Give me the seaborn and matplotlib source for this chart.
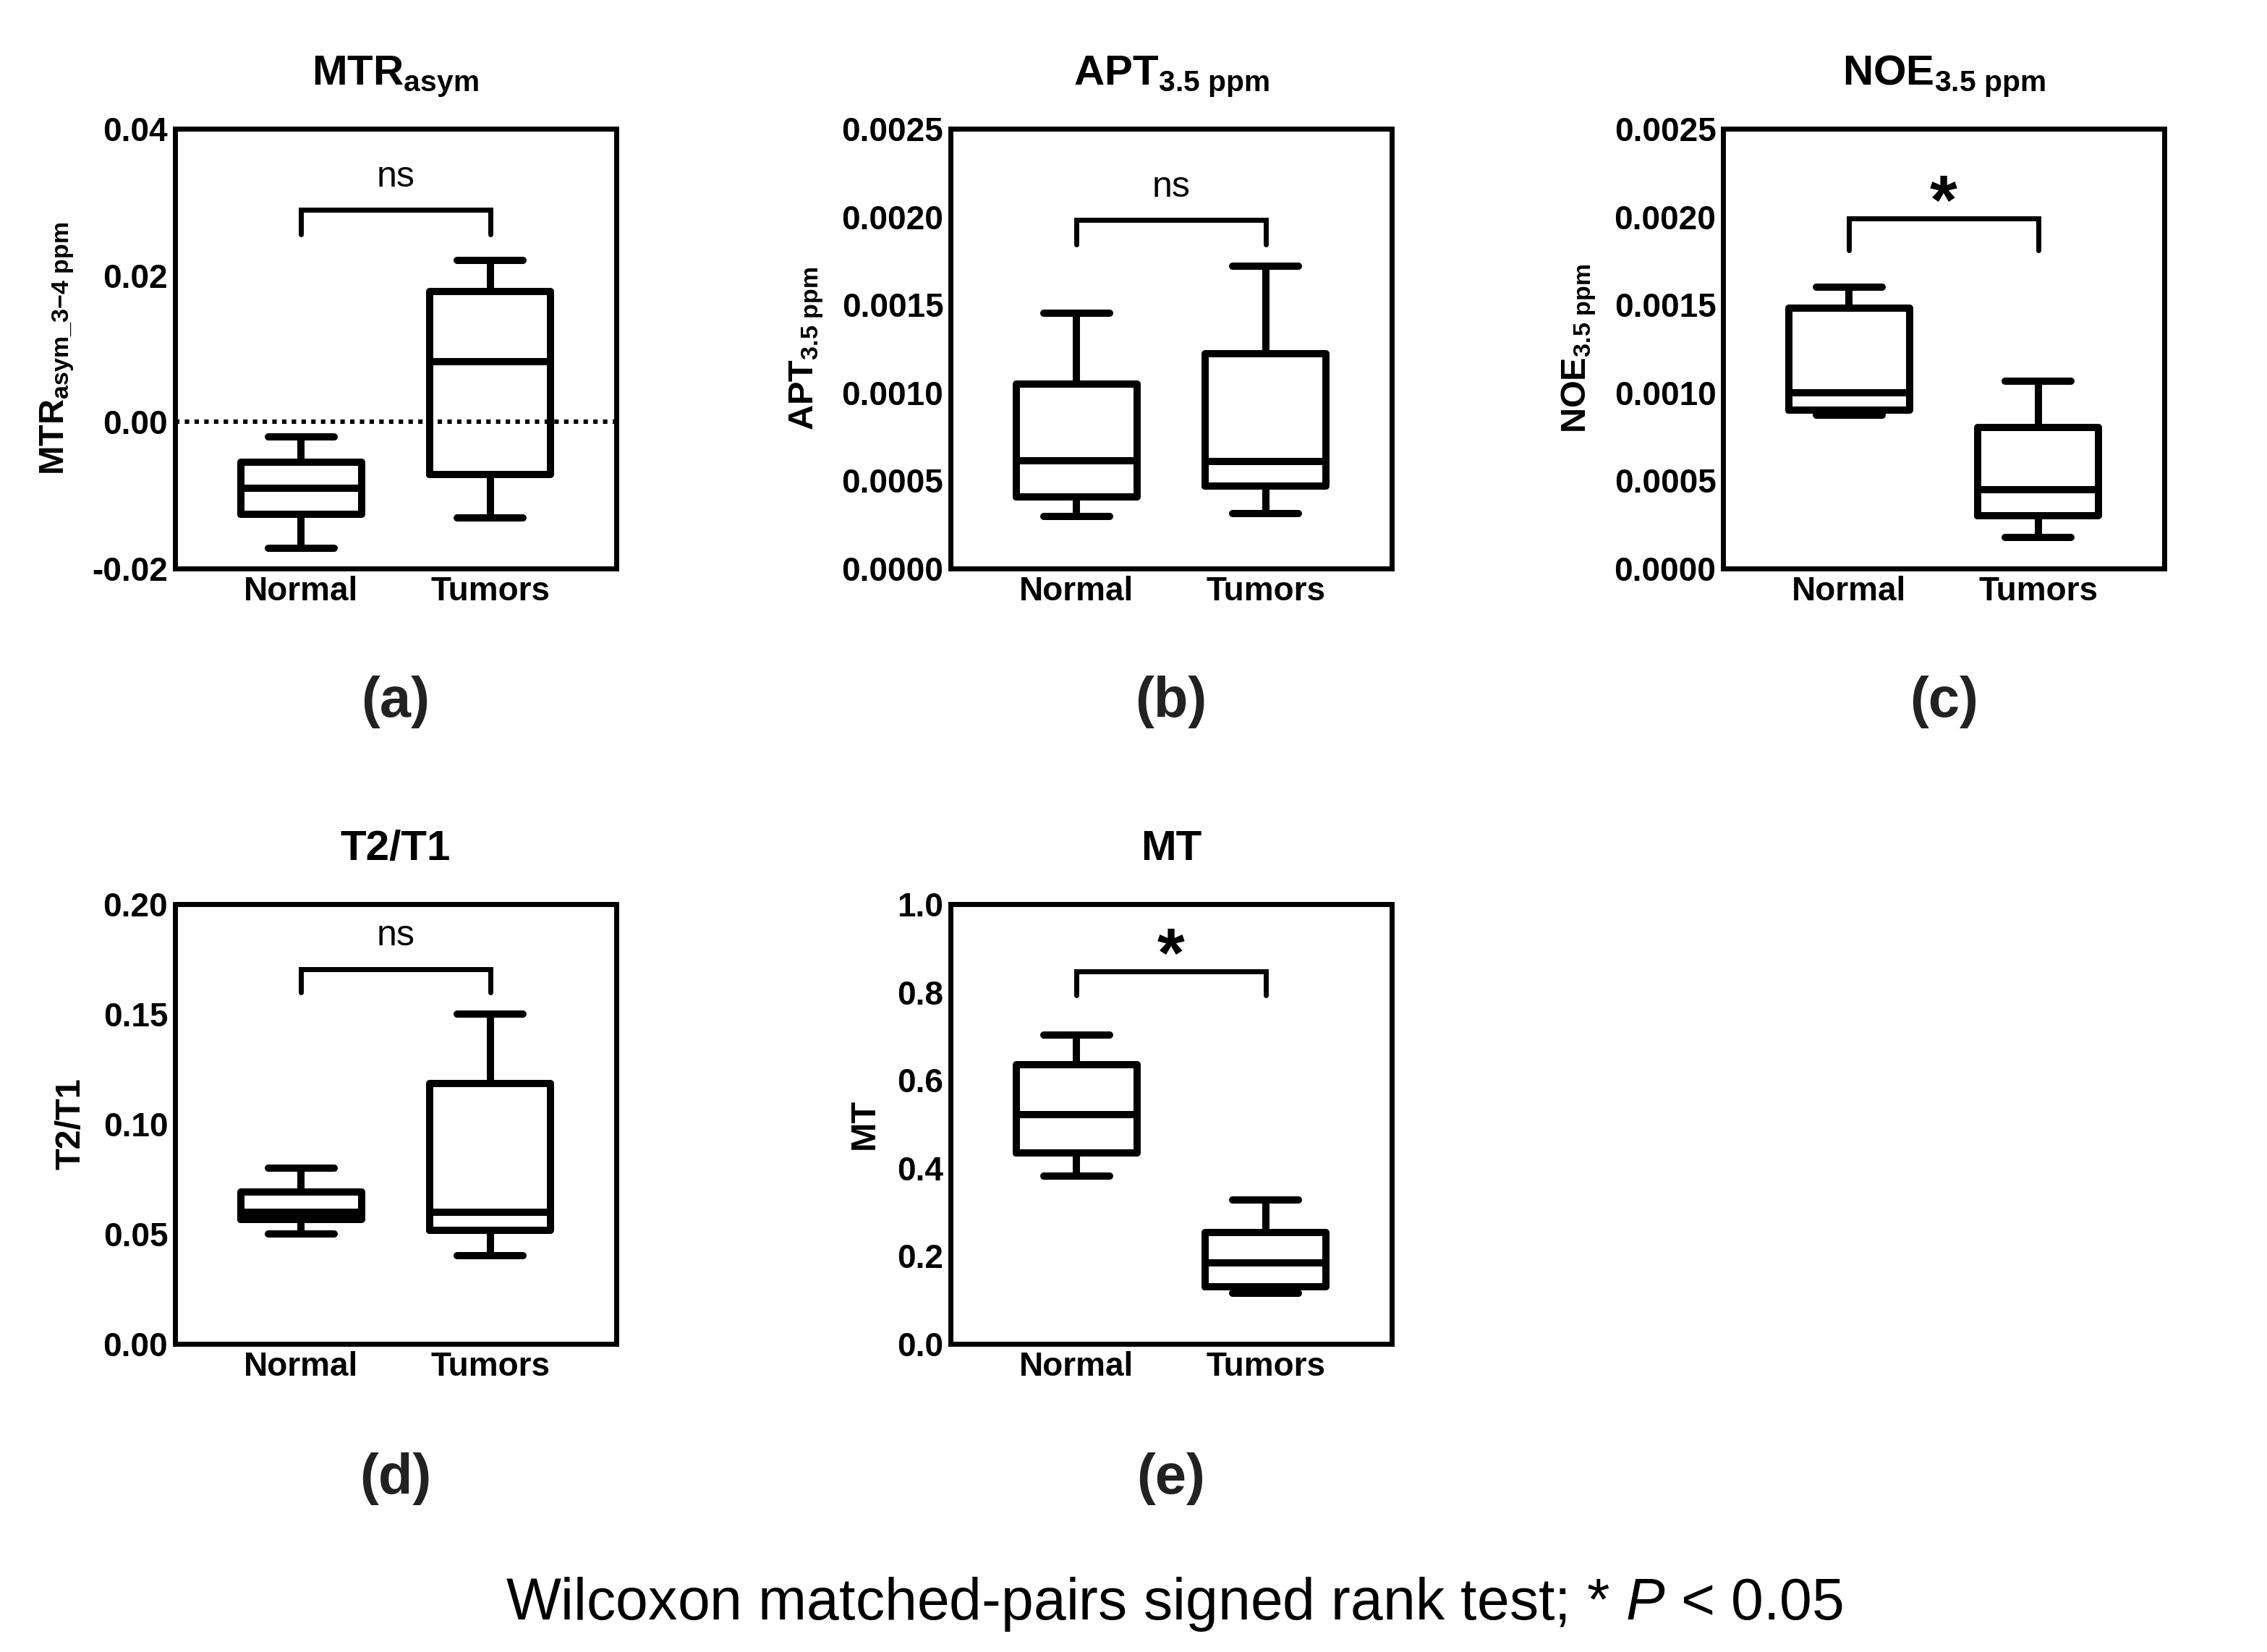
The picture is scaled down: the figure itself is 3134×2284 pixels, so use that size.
import matplotlib
matplotlib.use("Agg")
import matplotlib.pyplot as plt
import matplotlib.transforms as mtransforms
from matplotlib.ticker import FormatStrFormatter, MultipleLocator
import numpy as np
import pandas as pd
import seaborn as sns

groups = ["Normal", "Tumors"]

# five-number summaries: min, Q1, median, Q3, max
mtr_normal = [-0.0172, -0.0126, -0.0091, -0.0055, -0.0020]
mtr_tumors = [-0.0131, -0.0072, 0.0082, 0.0178, 0.0220]
apt_normal = [0.000295, 0.000408, 0.000613, 0.00105, 0.00145]
apt_tumors = [0.000314, 0.000467, 0.000608, 0.00122, 0.00172]
noe_normal = [0.00087, 0.00090, 0.00100, 0.00148, 0.00160]
noe_tumors = [0.000177, 0.00030, 0.000446, 0.00080, 0.001066]
t2t1_normal = [0.050, 0.0565, 0.060, 0.069, 0.080]
t2t1_tumors = [0.040, 0.0518, 0.060, 0.1185, 0.150]
mt_normal = [0.382, 0.435, 0.522, 0.635, 0.703]
mt_tumors = [0.116, 0.130, 0.184, 0.253, 0.327]

titles = [r"$\mathbf{MTR}_{\mathbf{asym}}$", r"$\mathbf{APT}_{\mathbf{3.5\ ppm}}$",
          r"$\mathbf{NOE}_{\mathbf{3.5\ ppm}}$", "T2/T1", "MT"]
ylabels = [r"$\mathbf{MTR}_{\mathbf{asym\_3{-}4\ ppm}}$", r"$\mathbf{APT}_{\mathbf{3.5\ ppm}}$",
           r"$\mathbf{NOE}_{\mathbf{3.5\ ppm}}$", "T2/T1", "MT"]
panel_tags = ["(a)", "(b)", "(c)", "(d)", "(e)"]
sig_marks = ["ns", "ns", "*", "ns", "*"]
footnote = "Wilcoxon matched-pairs signed rank test; * $\\it{P}$ < 0.05"

sns.set_style("white")
plt.rcParams["font.family"] = ["Liberation Sans", "DejaVu Sans"]
plt.rcParams["mathtext.fontset"] = "custom"
plt.rcParams["mathtext.rm"] = "Liberation Sans"
plt.rcParams["mathtext.bf"] = "Liberation Sans:bold"
plt.rcParams["mathtext.it"] = "Liberation Sans:italic"
plt.rcParams["axes.unicode_minus"] = False
plt.rcParams["text.color"] = "black"
plt.rcParams["axes.labelcolor"] = "black"
plt.rcParams["xtick.color"] = "black"
plt.rcParams["ytick.color"] = "black"

panels = [
    (mtr_normal, mtr_tumors, (-0.02, 0.04), 0.02, "%.2f", 0.815, 0.76),
    (apt_normal, apt_tumors, (0.0, 0.0025), 0.0005, "%.4f", 0.792, 0.736),
    (noe_normal, noe_tumors, (0.0, 0.0025), 0.0005, "%.4f", 0.796, 0.724),
    (t2t1_normal, t2t1_tumors, (0.0, 0.20), 0.05, "%.2f", 0.8525, 0.80),
    (mt_normal, mt_tumors, (0.0, 1.0), 0.2, "%.1f", 0.847, 0.792),
]

fig = plt.figure(figsize=(15.67, 11.42), dpi=200)
lefts = [0.0772, 0.4193, 0.7601, 0.0772, 0.4193]
bottoms = [0.6559, 0.6559, 0.6559, 0.1865, 0.1865]
w, h = 0.1946, 0.2662

for i, (normal, tumors, ylim, step, fmt, br_y, br_tip) in enumerate(panels):
    ax = fig.add_axes([lefts[i], bottoms[i], w, h])
    df = pd.DataFrame({"group": np.repeat(groups, len(normal)),
                       "value": list(normal) + list(tumors)})
    sns.boxplot(data=df, x="group", y="value", order=groups, ax=ax,
                whis=(0, 100), width=0.64, fill=False, color="black",
                linewidth=3.6, capwidths=0.35, showfliers=False)
    if ylim[0] < 0:
        ax.axhline(0, color="black", lw=2.2, ls=(0, (1, 1.2)), zorder=0)

    ax.set_xlim(-0.667, 1.667)
    ax.set_ylim(*ylim)
    ax.yaxis.set_major_locator(MultipleLocator(step))
    ax.yaxis.set_major_formatter(FormatStrFormatter(fmt))
    for s in ax.spines.values():
        s.set_visible(True)
        s.set_linewidth(2.5)
        s.set_color("black")
    ax.tick_params(direction="in", length=9, width=2.5, labelsize=16.5, colors="black")
    for lab in ax.get_xticklabels() + ax.get_yticklabels():
        lab.set_fontweight("bold")
    ax.set_xlabel("")
    ax.set_ylabel(ylabels[i], fontsize=17.5, fontweight="bold", labelpad=8)
    ax.set_title(titles[i], fontsize=21, fontweight="bold", pad=22)

    # significance bracket
    trans = mtransforms.blended_transform_factory(ax.transData, ax.transAxes)
    ax.plot([0, 0, 1, 1], [br_tip, br_y, br_y, br_tip], color="black", lw=2.5,
            transform=trans, clip_on=False, solid_joinstyle="miter")
    if sig_marks[i] == "ns":
        ax.text(0.5, br_y + 0.053, "ns", transform=trans, ha="center",
                va="baseline", fontsize=18)
    else:
        ax.text(0.5, br_y - 0.012, "*", transform=trans, ha="center",
                va="baseline", fontsize=35, fontweight="bold")

    tag_y = 0.575 if i < 3 else 0.105
    fig.text(lefts[i] + w / 2, tag_y, panel_tags[i], ha="center", va="center",
             fontsize=28, fontweight="bold", color="#222222")

fig.text(0.518, 0.029, footnote, ha="center", va="center", fontsize=29)

fig.savefig("out.png", dpi=200, facecolor="white")
